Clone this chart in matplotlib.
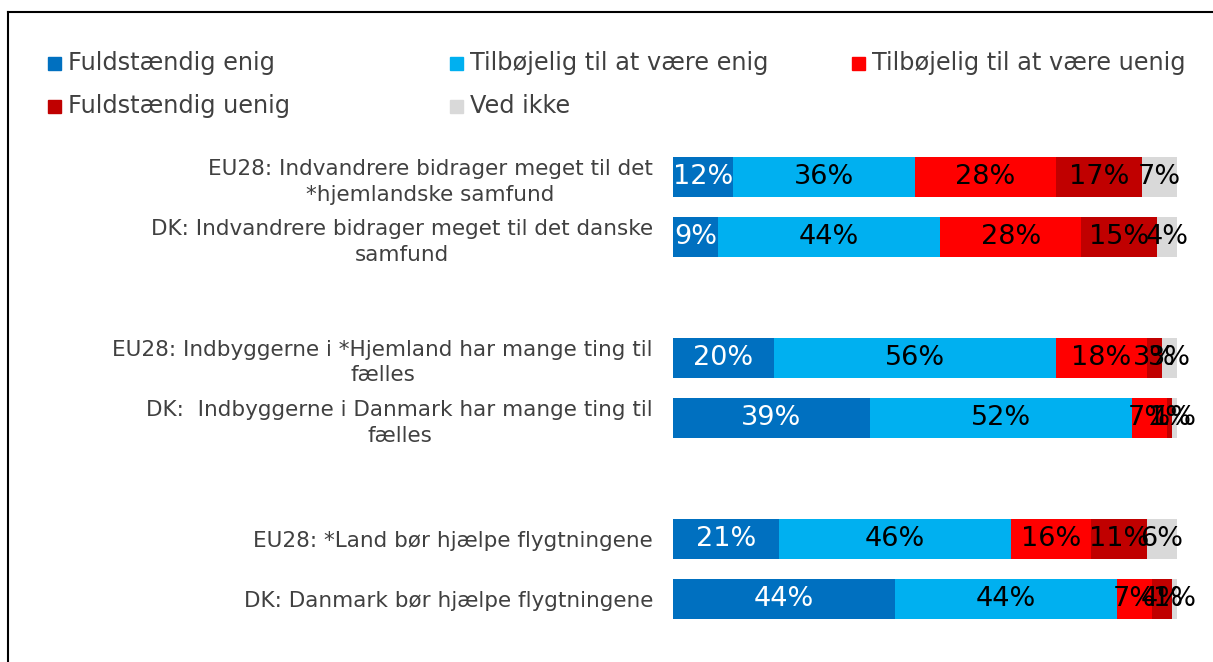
import numpy as np
import matplotlib.pyplot as plt
from matplotlib.patches import Rectangle
from matplotlib.lines import Line2D

plt.rcParams['font.family'] = ['DejaVu Sans']

categories = [
    "EU28: Indvandrere bidrager meget til det\n*hjemlandske samfund",
    "DK: Indvandrere bidrager meget til det danske\nsamfund",
    "EU28: Indbyggerne i *Hjemland har mange ting til\nfælles",
    "DK:  Indbyggerne i Danmark har mange ting til\nfælles",
    "EU28: *Land bør hjælpe flygtningene",
    "DK: Danmark bør hjælpe flygtningene",
]
series_names = ["Fuldstændig enig", "Tilbøjelig til at være enig",
                "Tilbøjelig til at være uenig", "Fuldstændig uenig", "Ved ikke"]
fuld_enig = [12, 9, 20, 39, 21, 44]
tilb_enig = [36, 44, 56, 52, 46, 44]
tilb_uenig = [28, 28, 18, 7, 16, 7]
fuld_uenig = [17, 15, 3, 1, 11, 4]
ved_ikke = [7, 4, 3, 1, 6, 1]

colors = ["#0070C0", "#00B0F0", "#FF0000", "#C00000", "#D9D9D9"]
label_colors = ["white", "black", "black", "black", "black"]

W, H = 1213, 662
fig = plt.figure(figsize=(W / 100, H / 100), dpi=100)
ax = fig.add_axes([673 / W, 43 / H, 504 / W, 462 / H])

ypos = [0, 1, 3, 4, 6, 7]
left = np.zeros(len(categories))
for vals, name, c, lc in zip([fuld_enig, tilb_enig, tilb_uenig, fuld_uenig, ved_ikke],
                             series_names, colors, label_colors):
    bars = ax.barh(ypos, vals, left=left, height=0.667, color=c, label=name)
    ax.bar_label(bars, labels=[f"{v}%" for v in vals], label_type='center',
                 color=lc, fontsize=19.5)
    left += np.array(vals)

ax.set_xlim(0, 100)
ax.set_ylim(7.333, -0.333)
ax.set_yticks(ypos)
ax.set_yticklabels(categories, fontsize=15.5, color="#404040", multialignment='center')
for t in ax.get_yticklabels():
    t.set_linespacing(1.35)
ax.tick_params(axis='y', length=0, pad=14.4)
ax.set_xticks([])
for s in ax.spines.values():
    s.set_visible(False)

# legend laid out by hand, three columns
leg_x = [48, 450, 852]
leg_y = [63, 106]
for i, (name, c) in enumerate(zip(series_names, colors)):
    x = leg_x[i % 3]
    y = leg_y[i // 3]
    fig.add_artist(Rectangle((x / W, 1 - (y + 6.5) / H), 13 / W, 13 / H,
                             transform=fig.transFigure, color=c))
    fig.text((x + 20) / W, 1 - y / H, name, fontsize=17.3, color="#404040",
             va='center', ha='left')

# frame around the chart
fig.add_artist(Line2D([8 / W, 8 / W], [0, 1 - 12 / H], transform=fig.transFigure,
                      color='black', lw=1.5))
fig.add_artist(Line2D([8 / W, 1], [1 - 12 / H, 1 - 12 / H], transform=fig.transFigure,
                      color='black', lw=1.5))

plt.savefig("out.png", dpi=100)
